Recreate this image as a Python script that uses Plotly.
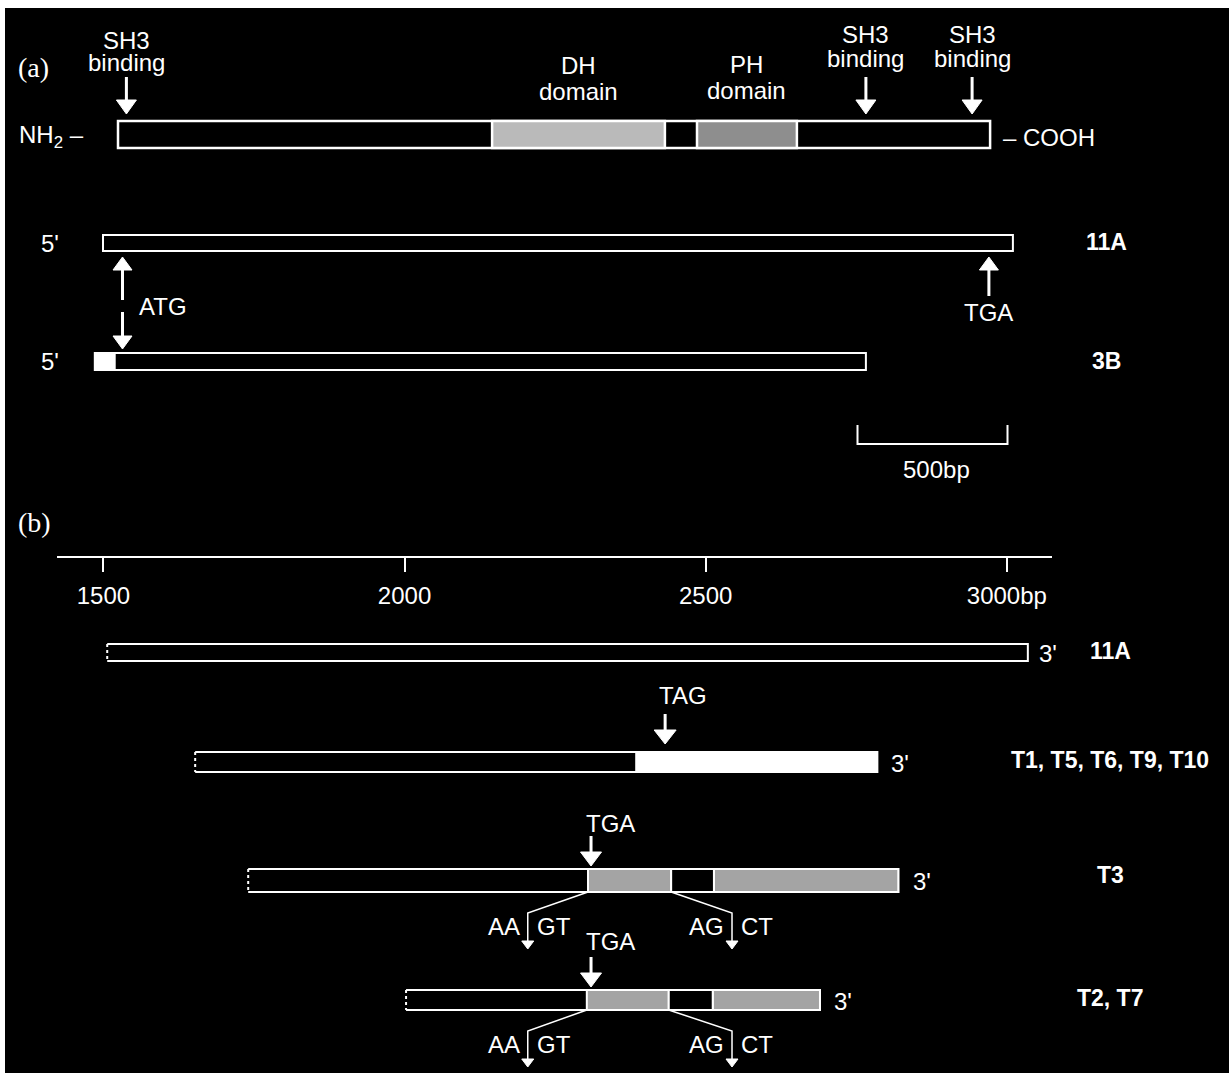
import plotly.graph_objects as go

# ======================= DATA =======================
# Panel (a): positions in bp along the full-length cDNA (clone 11A starts at 0)
protein_span = [50, 2957]
domain_labels = ["DH", "PH"]
domain_starts = [1297, 1980]
domain_ends = [1873, 2313]
sh3_sites = [78, 2543, 2897]
cdna_a_names = ["11A", "3B"]
cdna_a_starts = [0, -27]
cdna_a_ends = [3033, 2543]
extra5_3B = [-27, 39]
atg_site = 65
tga_site_a = 2953
scale_bar_bp = [2515, 3015]
scale_bar_label = "500bp"

# Panel (b): positions in bp on the ruler
ruler_span = [1423, 3075]
ruler_ticks = [1500, 2000, 2500, 3000]
ruler_ticktext = ["1500", "2000", "2500", "3000bp"]
clone_b_names = ["11A", "T1, T5, T6, T9, T10", "T3", "T2, T7"]
clone_b_starts = [1507, 1653, 1741, 2003]
clone_b_ends = [3035, 2785, 2820, 2690]
t1_novel = [2385, 2785]
tag_site = 2433
t3_exons = [[2305, 2443], [2514, 2820]]
t2_exons = [[2303, 2439], [2512, 2690]]
tga_site_b = 2310
splice_donor_end = 2205
splice_acceptor_end = 2544

# ======================= LAYOUT HELPERS =======================
PW, PHt = 1229, 1073     # page / figure size
ML, MT = 5, 8            # white border (left, top)
W, H = PW - ML, PHt - MT # black plotting area
A0, AK = 103.0, 0.3      # panel (a) px = A0 + AK*bp
B0, BK = 103.0, 0.6025   # panel (b) px = B0 + BK*(bp-1500)

SANS = "Liberation Sans, Arial, Helvetica, sans-serif"
SERIF = "Liberation Serif, Times New Roman, serif"
WHITE = "white"
GRAY_DH, GRAY_PH, GRAY_T = "#bababa", "#8e8e8e", "#a4a4a4"

shapes, annots = [], []


def paper_x(px):
    return (px - ML) / W


def rect(xref, x0, x1, y0, y1, fill="black", lw=2):
    shapes.append(dict(type="rect", xref=xref, yref="y", x0=x0, x1=x1, y0=y0, y1=y1,
                       fillcolor=fill, line=dict(color=WHITE, width=lw), layer="above"))


def open_bar(xref, x0, x1, y0, y1, fill="black", lw=2):
    shapes.append(dict(type="rect", xref=xref, yref="y", x0=x0, x1=x1, y0=y0, y1=y1,
                       fillcolor=fill, line=dict(width=0), layer="above"))
    shapes.append(dict(type="path", xref=xref, yref="y",
                       path=f"M {x0},{y0} L {x1},{y0} L {x1},{y1} L {x0},{y1}",
                       line=dict(color=WHITE, width=lw), layer="above"))
    shapes.append(dict(type="line", xref=xref, yref="y", x0=x0, x1=x0, y0=y0, y1=y1,
                       line=dict(color=WHITE, width=lw, dash="dot"), layer="above"))


def line(xref, x0, y0, x1, y1, lw=2):
    shapes.append(dict(type="line", xref=xref, yref="y", x0=x0, x1=x1, y0=y0, y1=y1,
                       line=dict(color=WHITE, width=lw), layer="above"))


def head(xref, x, ytip, k, hw_px, hh_px, up=False):
    hw = hw_px / 2.0 / k
    yb = ytip + hh_px if up else ytip - hh_px
    shapes.append(dict(type="path", xref=xref, yref="y",
                       path=f"M {x-hw},{yb} L {x+hw},{yb} L {x},{ytip} Z",
                       fillcolor=WHITE, line=dict(color=WHITE, width=1), layer="above"))


def arrow(xref, x, yfrom, ytip, k, hw_px=20, hh_px=14, sw=3):
    up = ytip < yfrom
    yb = ytip + hh_px if up else ytip - hh_px
    line(xref, x, yfrom, x, yb, sw)
    head(xref, x, ytip, k, hw_px, hh_px, up)


def text(s, px, y, size=24, bold=False, anchor="center", family=SANS):
    if bold:
        s = f"<b>{s}</b>"
    annots.append(dict(text=s, xref="paper", yref="y", x=paper_x(px), y=y,
                       xanchor=anchor, yanchor="middle", showarrow=False,
                       font=dict(family=family, size=size, color=WHITE)))


def pxa(bp):
    return A0 + AK * bp


def pxb(bp):
    return B0 + BK * (bp - 1500)

# ======================= PANEL (a) =======================
text("(a)", 16, 67, size=28, anchor="left", family=SERIF)

# protein bar with domains
PY0, PY1 = 121, 148
rect("x", protein_span[0], protein_span[1], PY0, PY1, lw=2.5)
for lab, s, e, col, ytop, ybot in zip(domain_labels, domain_starts, domain_ends,
                                      [GRAY_DH, GRAY_PH], [65, 64], [91, 90]):
    rect("x", s, e, PY0, PY1, fill=col, lw=2.5)
    c = pxa((s + e) / 2)
    text(lab, c, ytop)
    text("domain", c, ybot)

sh3_text_y = [(40, 62), (34, 58), (34, 58)]
for site, (y1, y2) in zip(sh3_sites, sh3_text_y):
    text("SH3", pxa(site), y1)
    text("binding", pxa(site), y2)
    arrow("x", site, 77, 114, AK)

text("NH<sub>2</sub> \u2013", 17, 136, anchor="left")
text("\u2013 COOH", 1001, 137, anchor="left")

# cDNA clones in panel (a)
rows_a = [(235, 251), (353, 370)]
for name, s, e, (y0, y1) in zip(cdna_a_names, cdna_a_starts, cdna_a_ends, rows_a):
    rect("x", s, e, y0, y1)
    text("5'", 50, (y0 + y1) / 2)
    text(name, 1106, (y0 + y1) / 2 - 1, size=23, bold=True)
rect("x", extra5_3B[0], extra5_3B[1], rows_a[1][0], rows_a[1][1], fill=WHITE)

# ATG double arrow
arrow("x", atg_site, 300, 257, AK, hw_px=19, hh_px=13)
arrow("x", atg_site, 312, 349, AK, hw_px=19, hh_px=13)
text("ATG", 137, 306, anchor="left")

# TGA in 11A
arrow("x", tga_site_a, 296, 257, AK, hw_px=19, hh_px=13)
text("TGA", pxa(tga_site_a), 312)

# scale bar
shapes.append(dict(type="path", xref="x", yref="y",
                   path=f"M {scale_bar_bp[0]},425 L {scale_bar_bp[0]},444 L {scale_bar_bp[1]},444 L {scale_bar_bp[1]},425",
                   line=dict(color=WHITE, width=2), layer="above"))
text(scale_bar_label, pxa(sum(scale_bar_bp) / 2) + 4, 469)

# ======================= PANEL (b) =======================
text("(b)", 16, 522, size=28, anchor="left", family=SERIF)

rows_b = [(644, 661), (752, 772), (869, 892), (990, 1010)]
label_y = [651, 760, 875, 998]
three_px = [1048, 900, 922, 843]
for name, s, e, (y0, y1), ly, tp in zip(clone_b_names, clone_b_starts, clone_b_ends,
                                        rows_b, label_y, three_px):
    open_bar("x2", s, e, y0, y1)
    text("3'", tp, (y0 + y1) / 2 + 1)
    text(name, 1110, ly, size=23, bold=True)

# T1 family: novel 3' sequence and TAG
rect("x2", t1_novel[0], t1_novel[1], rows_b[1][0], rows_b[1][1], fill=WHITE)
arrow("x2", tag_site, 714, 744, BK, hw_px=22, hh_px=14)
text("TAG", pxb(tag_site) + 18, 695)

# T3 and T2: exons, TGA, splice sites
for exons, (y0, y1), tga_y in zip([t3_exons, t2_exons], rows_b[2:], [823, 941]):
    for s, e in exons:
        rect("x2", s, e, y0, y1, fill=GRAY_T)
    rect("x2", exons[0][1], exons[1][0], y0, y1)
    arrow("x2", tga_site_b, y0 - 33, y0 - 3, BK, hw_px=21, hh_px=14)
    text("TGA", pxb(tga_site_b) + 19, tga_y)
    yk, yt = y1 + 21, y1 + 57
    shapes.append(dict(type="path", xref="x2", yref="y",
                       path=f"M {exons[0][0]},{y1} L {splice_donor_end},{yk} L {splice_donor_end},{yt-8}",
                       line=dict(color=WHITE, width=1.5), layer="above"))
    shapes.append(dict(type="path", xref="x2", yref="y",
                       path=f"M {exons[0][1]},{y1} L {splice_acceptor_end},{yk} L {splice_acceptor_end},{yt-8}",
                       line=dict(color=WHITE, width=1.5), layer="above"))
    head("x2", splice_donor_end, yt, BK, 12, 8)
    head("x2", splice_acceptor_end, yt, BK, 12, 8)
    ty = y1 + 34
    d, a = pxb(splice_donor_end), pxb(splice_acceptor_end)
    text("AA", d - 6, ty, anchor="right")
    text("GT", d + 7, ty, anchor="left")
    text("AG", a - 6, ty, anchor="right")
    text("CT", a + 7, ty, anchor="left")

# ======================= FIGURE =======================
fig = go.Figure()
# invisible anchors so every axis is realised
fig.add_trace(go.Scatter(x=[0], y=[-50], xaxis="x", yaxis="y", mode="markers",
                         marker=dict(opacity=0), hoverinfo="skip", showlegend=False))
fig.add_trace(go.Scatter(x=[1500], y=[-50], xaxis="x2", yaxis="y", mode="markers",
                         marker=dict(opacity=0), hoverinfo="skip", showlegend=False))
fig.add_trace(go.Scatter(x=ruler_ticks, y=[-50] * len(ruler_ticks), xaxis="x3", yaxis="y",
                         mode="markers", marker=dict(opacity=0), hoverinfo="skip",
                         showlegend=False))

hidden = dict(visible=False, showgrid=False, zeroline=False)
ruler_px = [57, 1052]
fig.update_layout(
    width=PW, height=PHt, autosize=False,
    margin=dict(l=ML, r=0, t=MT, b=0, pad=0),
    paper_bgcolor="white", plot_bgcolor="black",
    showlegend=False, hovermode=False,
    xaxis=dict(range=[(ML - A0) / AK, (PW - A0) / AK], domain=[0, 1], **hidden),
    xaxis2=dict(range=[1500 + (ML - B0) / BK, 1500 + (PW - B0) / BK], overlaying="x",
                domain=[0, 1], **hidden),
    xaxis3=dict(range=ruler_span, domain=[paper_x(ruler_px[0]), paper_x(ruler_px[1])],
                anchor="free", position=(PHt - 557) / H, side="bottom",
                showline=True, linecolor=WHITE, linewidth=2,
                ticks="outside", ticklen=14, tickwidth=2, tickcolor=WHITE,
                tickmode="array", tickvals=ruler_ticks, ticktext=ruler_ticktext,
                tickfont=dict(family=SANS, size=24, color=WHITE),
                ticklabelstandoff=3,
                showgrid=False, zeroline=False, fixedrange=True),
    yaxis=dict(range=[PHt, MT], domain=[0, 1], **hidden),
    shapes=shapes, annotations=annots,
)
fig.write_html("out.html", config={"displayModeBar": False, "staticPlot": True},
               post_script="document.body.style.margin='0px'; document.body.style.overflow='hidden';")
